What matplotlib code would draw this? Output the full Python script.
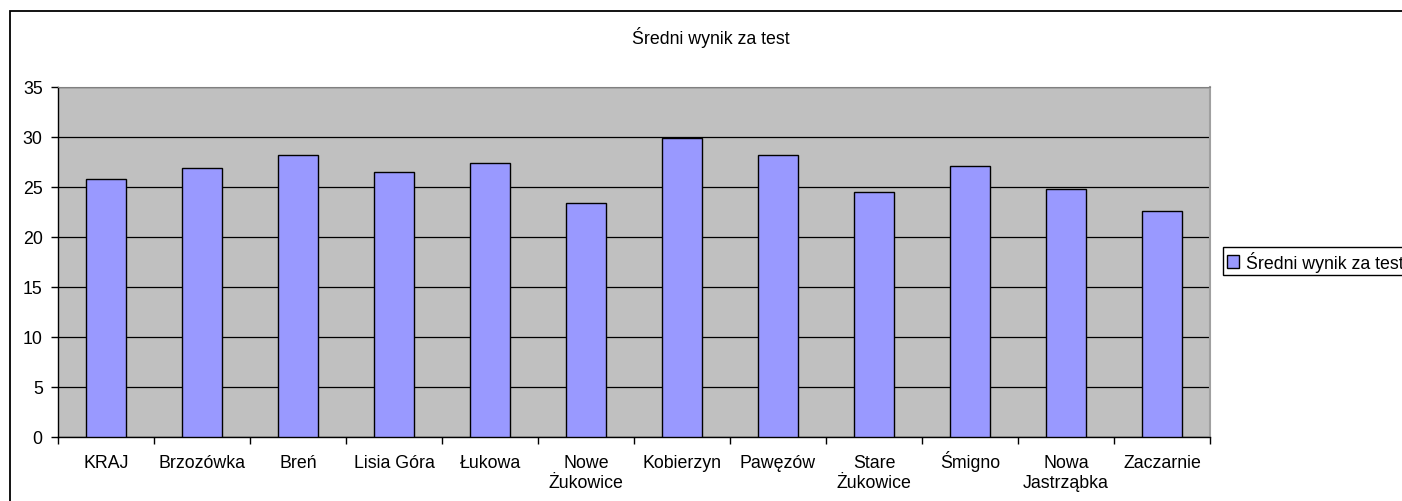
import numpy as np
import matplotlib
matplotlib.use('Agg')
import matplotlib.pyplot as plt
from matplotlib.patches import Rectangle

plt.rcParams['font.family'] = ['Liberation Sans', 'DejaVu Sans']

# Data
categories = ['KRAJ', 'Brzozówka', 'Breń', 'Lisia Góra', 'Łukowa', 'Nowe\nŻukowice',
              'Kobierzyn', 'Pawęzów', 'Stare\nŻukowice', 'Śmigno', 'Nowa\nJastrząbka', 'Zaczarnie']
scores = [25.8, 26.9, 28.2, 26.5, 27.4, 23.4, 29.9, 28.2, 24.5, 27.1, 24.8, 22.6]
series_name = 'Średni wynik za test'
y_ticks = [0, 5, 10, 15, 20, 25, 30, 35]

FS = 12.8
W, H = 1402, 502
fig = plt.figure(figsize=(W / 100, H / 100), dpi=100)

# outer chart frame (right and bottom edges fall outside the picture)
fig.patches.append(Rectangle((10 / W, -0.1), 1.2, 1 - 12 / H + 0.1, transform=fig.transFigure,
                             fill=False, edgecolor='black', linewidth=1.3, clip_on=False))

x0, x1 = 58 / W, 1210 / W
yb, yt = 1 - 437.7 / H, 1 - 87.7 / H
ax = fig.add_axes([x0, yb, x1 - x0, yt - yb])
ax.set_facecolor('#C0C0C0')

x = np.arange(len(categories))
ax.set_axisbelow(True)
ax.grid(axis='y', color='black', linewidth=0.9)
bars = ax.bar(x, scores, width=0.415, color='#9999FF', edgecolor='black', linewidth=1.0,
              label=series_name, zorder=3)

ax.set_xlim(-0.5, len(categories) - 0.5)
ax.set_ylim(0, 35)
ax.set_yticks(y_ticks)
ax.tick_params(axis='y', direction='out', length=5, width=1, pad=6, labelsize=FS)

# ticks at category boundaries; each label line drawn on its own baseline
ax.set_xticks(np.arange(-0.5, len(categories), 1.0))
ax.set_xticklabels([])
ax.tick_params(axis='x', which='major', direction='out', length=5, width=1)
for xi, name in zip(x, categories):
    for i, line in enumerate(name.split('\n')):
        ax.annotate(line, xy=(xi, 0), xycoords=('data', 'axes fraction'),
                    xytext=(0, -30 - 20 * i), textcoords='offset pixels',
                    ha='center', va='baseline', fontsize=FS)

for side in ['left', 'bottom']:
    ax.spines[side].set_color('black')
    ax.spines[side].set_linewidth(1)
ax.spines['top'].set_color('#808080')
ax.spines['right'].set_color('#A0A0A0')
ax.spines['right'].set_linewidth(1.5)

fig.text(711 / W, 1 - 38 / H, 'Średni wynik za test', ha='center', va='center', fontsize=FS)

fig.legend(handles=[bars], labels=[series_name], loc='upper left',
           bbox_to_anchor=(1223 / W, 1 - 248 / H), bbox_transform=fig.transFigure,
           frameon=True, fancybox=False, edgecolor='black', framealpha=1,
           fontsize=FS, handlelength=0.7, handleheight=0.7, handletextpad=0.4,
           borderpad=0.2, borderaxespad=0)

plt.savefig('out.png', dpi=100)
